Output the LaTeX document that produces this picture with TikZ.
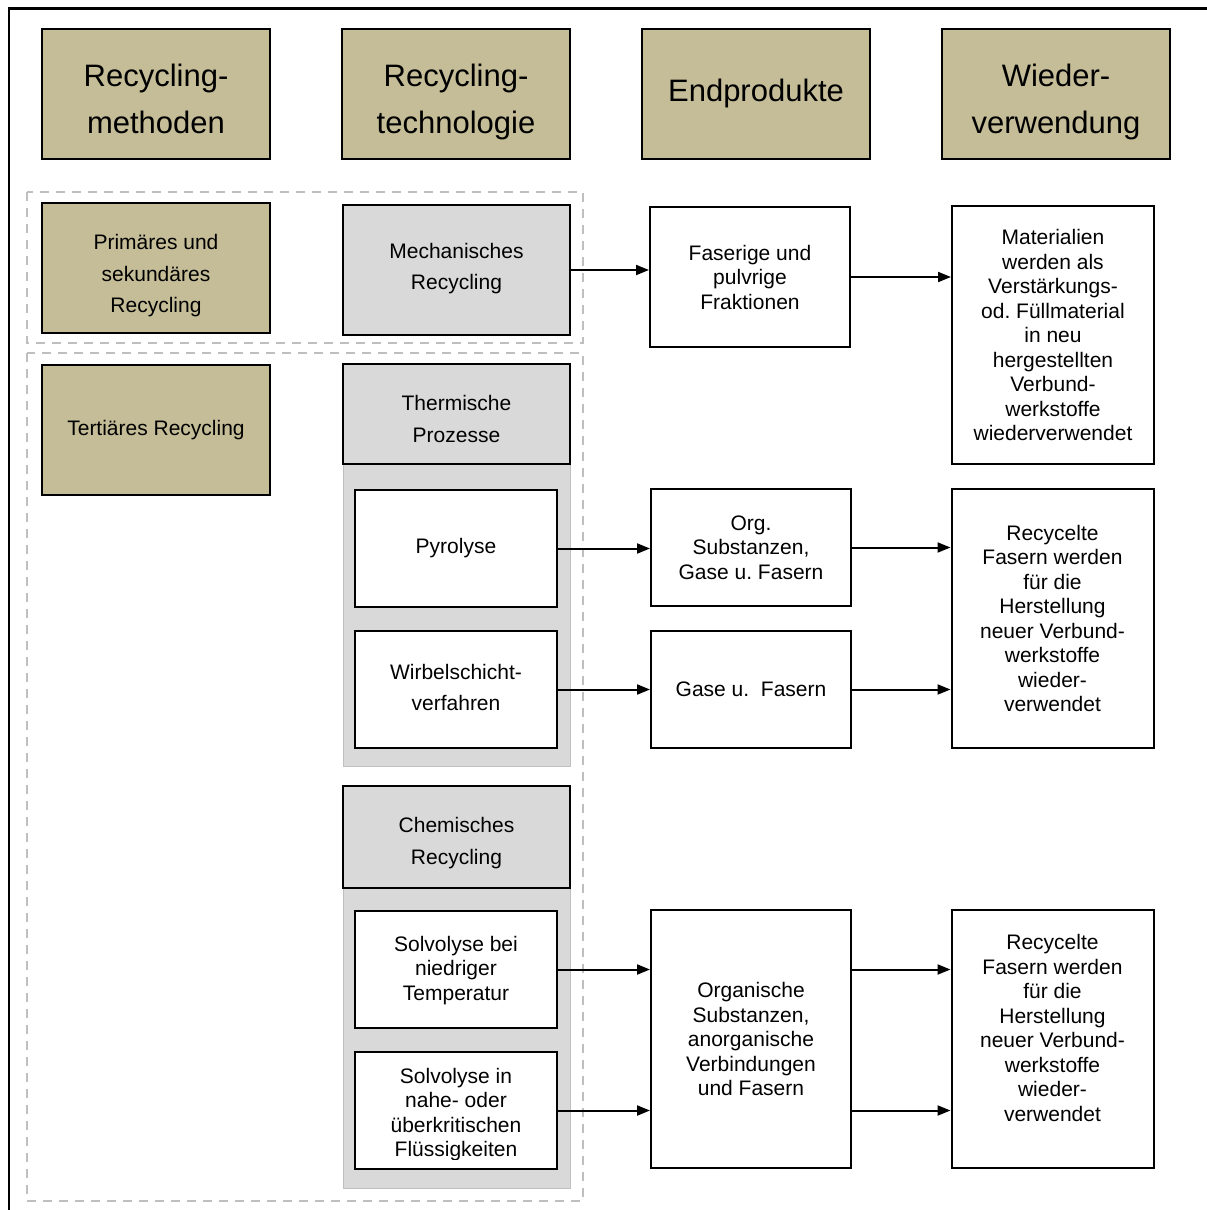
\documentclass[tikz,border=0pt]{standalone}
\usepackage{fontspec}
\setmainfont{Liberation Sans}
\usetikzlibrary{arrows.meta}
\definecolor{tanfill}{HTML}{C4BD97}
\definecolor{panelgray}{HTML}{D9D9D9}
\definecolor{dashgray}{HTML}{BFBFBF}
\begin{document}
\begin{tikzpicture}[x=1pt,y=-1pt,
  box/.style={draw=black,line width=2pt,rectangle,inner sep=0pt,align=center,
    font=\fontsize{21}{24.5}\selectfont},
  spaced/.style={font=\fontsize{21}{31.5}\selectfont},
  headbox/.style={box,fill=tanfill,font=\fontsize{31}{47}\selectfont,
    minimum width=228pt,minimum height=130pt},
  methodbox/.style={box,spaced,fill=tanfill,minimum width=228pt,minimum height=130pt},
  techbox/.style={box,spaced,fill=panelgray,minimum width=227pt},
  procbox/.style={box,fill=white,minimum width=202pt,minimum height=117pt},
  prodbox/.style={box,fill=white,minimum width=200pt},
  reusebox/.style={box,fill=white,minimum width=202pt},
  group/.style={draw=dashgray,line width=2.5pt,dash pattern=on 9pt off 7pt},
  panel/.style={fill=panelgray,draw=dashgray,line width=1pt},
  flow/.style={line width=2pt,-{Triangle[length=13pt,width=10pt]}},
  plain/.style={inner sep=0pt,align=center,font=\fontsize{21}{24.5}\selectfont},
  plainspaced/.style={plain,font=\fontsize{21}{31.5}\selectfont},
  headtext/.style={plain,font=\fontsize{31}{47}\selectfont}
]
\useasboundingbox (0,0) rectangle (1207,1210);

% outer frame (left and top edges)
\draw[line width=2.5pt] (9,1210) -- (9,8.5) -- (1207,8.5);

% column headers
\node[headbox] (h1) at (156,94) {};
\node[headtext] (h1text) at (156,99) {Recycling-\\methoden};
\node[headbox] (h2) at (456,94) {};
\node[headtext] (h2text) at (456,101.5) {Recycling-\\technologie};
\node[headbox] (h3) at (756,94) {};
\node[headtext] (h3text) at (756,93) {Endprodukte};
\node[headbox] (h4) at (1056,94) {};
\node[headtext] (h4text) at (1056,101.5) {Wieder-\\verwendung};

% dashed groupings
\draw[group] (27,192) rectangle (583,343);
\draw[group] (27,353) rectangle (583,1201);

% recycling methods
\node[methodbox] (prim) at (156,268) {};
\node[plainspaced] (primtext) at (156,276) {Primäres und\\sekundäres\\Recycling};
\node[methodbox] (tert) at (156,430) {Tertiäres Recycling};

% technologies
\node[techbox,minimum height=130pt] (mech) at (456.5,270) {};
\node[plainspaced] (mechtext) at (456.5,268.5) {Mechanisches\\Recycling};

\draw[panel] (343,364) rectangle (570,766);
\node[techbox,minimum height=100pt] (therm) at (456.5,414) {};
\node[plainspaced] (thermtext) at (456.5,419) {Thermische\\Prozesse};
\node[procbox] (pyro) at (456,548.5) {Pyrolyse};
\node[procbox] (wirb) at (456,689.5) {};
\node[plainspaced] (wirbtext) at (456,687.5) {Wirbelschicht-\\verfahren};

\draw[panel] (343,786) rectangle (570,1188);
\node[techbox,minimum height=102pt] (chem) at (456.5,837) {};
\node[plainspaced] (chemtext) at (456.5,843) {Chemisches\\Recycling};
\node[procbox] (solv1) at (456,969.5) {};
\node[plain] (solv1text) at (456,970.5) {Solvolyse bei\\niedriger\\Temperatur};
\node[procbox] (solv2) at (456,1110.5) {};
\begin{scope}
  \clip (355,1052) rectangle (557,1159);
  \node[plain] (solv2text) at (456,1114.5)
    {Solvolyse in\\nahe- oder\\überkritischen\\Flüssigkeiten};
\end{scope}

% end products
\node[prodbox,minimum height=140pt] (fas) at (750,277) {Faserige und\\pulvrige\\Fraktionen};
\node[prodbox,minimum height=117pt] (orgs) at (751,547.5) {Org.\\Substanzen,\\Gase u.\ Fasern};
\node[prodbox,minimum height=117pt] (gase) at (751,689.5) {Gase u.\ \ Fasern};
\node[prodbox,minimum height=258pt] (organ) at (751,1039)
  {Organische\\Substanzen,\\anorganische\\Verbindungen\\und Fasern};

% reuse
\node[reusebox,minimum height=258pt] (mat) at (1053,335)
  {Materialien\\werden als\\Verstärkungs-\\od.\ Füllmaterial\\in neu\\hergestellten\\Verbund-\\werkstoffe\\wiederverwendet};
\node[reusebox,minimum height=259pt] (rec1) at (1052.5,618.5)
  {Recycelte\\Fasern werden\\für die\\Herstellung\\neuer Verbund-\\werkstoffe\\wieder-\\verwendet};
\node[reusebox,minimum height=258pt] (rec2) at (1052.5,1039) {};
\node[plain] (rec2text) at (1052.5,1028)
  {Recycelte\\Fasern werden\\für die\\Herstellung\\neuer Verbund-\\werkstoffe\\wieder-\\verwendet};

% connectors
\draw[flow] (mech.east) -- (mech.east -| fas.west);
\draw[flow] (fas.east) -- (fas.east -| mat.west);
\draw[flow] (pyro.east) -- (pyro.east -| orgs.west);
\draw[flow] (orgs.east) -- (orgs.east -| rec1.west);
\draw[flow] (wirb.east) -- (wirb.east -| gase.west);
\draw[flow] (gase.east) -- (gase.east -| rec1.west);
\draw[flow] (solv1.east) -- (solv1.east -| organ.west);
\draw[flow] (solv2.east) -- (solv2.east -| organ.west);
\draw[flow] (organ.east |- solv1.east) -- (rec2.west |- solv1.east);
\draw[flow] (organ.east |- solv2.east) -- (rec2.west |- solv2.east);
\end{tikzpicture}
\end{document}
